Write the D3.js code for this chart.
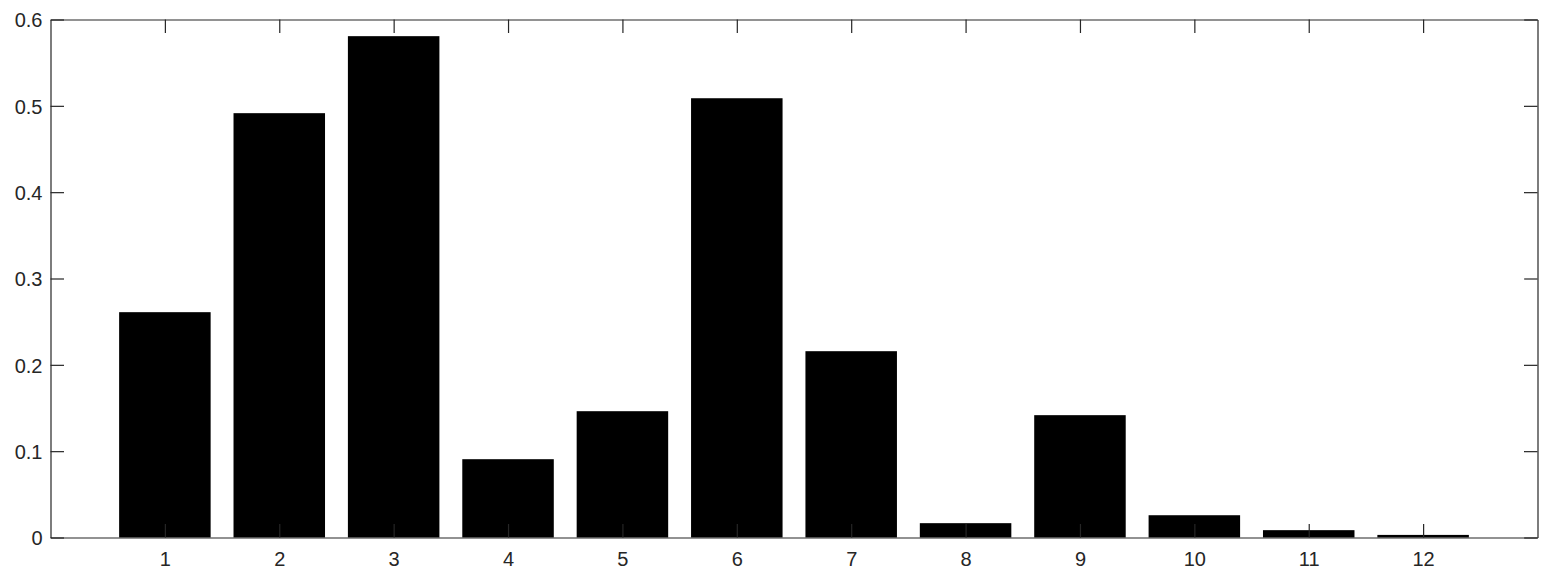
<!DOCTYPE html>
<html>
<head>
<meta charset="utf-8">
<script src="https://cdn.jsdelivr.net/npm/d3@7"></script>
<style>
  html, body { margin: 0; padding: 0; background: #fff; }
  svg { display: block; }
  text { font-family: "Liberation Sans", Arial, sans-serif; }
</style>
</head>
<body>
<script>
const categories = [1, 2, 3, 4, 5, 6, 7, 8, 9, 10, 11, 12];
const values = [0.261, 0.4915, 0.5807, 0.0907, 0.1463, 0.5088, 0.2158, 0.0166, 0.1417, 0.0258, 0.0085, 0.003];
const yTicks = [0, 0.1, 0.2, 0.3, 0.4, 0.5, 0.6];
const yTickLabels = ["0", "0.1", "0.2", "0.3", "0.4", "0.5", "0.6"];

(function () {
  const W = 1556, H = 579;
  const mLeft = 50.5, mRight = 1537.5, mTop = 19.5, mBottom = 537.5;
  const axisColor = "#262626";
  const fontSize = 20;
  const tickLen = 13.5;

  const svg = d3.select("body").append("svg").attr("width", W).attr("height", H);

  const x = d3.scaleLinear().domain([0, 13]).range([mLeft, mRight]);
  const y = d3.scaleLinear().domain([0, 0.6]).range([mBottom, mTop]);
  const barW = x(0.8) - x(0);

  svg.append("g").selectAll("rect").data(values).join("rect")
    .attr("x", (d, i) => x(categories[i]) - barW / 2)
    .attr("y", d => y(d))
    .attr("width", barW)
    .attr("height", d => y(0) - y(d))
    .attr("fill", "#000");

  const xAxis = d3.axisBottom(x).tickValues(categories).tickSizeInner(-tickLen).tickSizeOuter(0).tickPadding(14);
  const gx = svg.append("g").attr("transform", `translate(0,${mBottom})`).call(xAxis);
  const xAxisTop = d3.axisTop(x).tickValues(categories).tickSizeInner(-tickLen).tickSizeOuter(0).tickFormat("");
  const gxt = svg.append("g").attr("transform", `translate(0,${mTop})`).call(xAxisTop);
  const yAxis = d3.axisLeft(y).tickValues(yTicks).tickFormat((d, i) => yTickLabels[i]).tickSizeInner(-tickLen).tickSizeOuter(0).tickPadding(8);
  const gy = svg.append("g").attr("transform", `translate(${mLeft},0)`).call(yAxis);
  const yAxisR = d3.axisRight(y).tickValues(yTicks).tickSizeInner(-tickLen).tickSizeOuter(0).tickFormat("");
  const gyr = svg.append("g").attr("transform", `translate(${mRight},0)`).call(yAxisR);

  [gx, gxt, gy, gyr].forEach(g => {
    g.selectAll(".domain").attr("stroke", axisColor).attr("stroke-width", 1.2);
    g.selectAll(".tick line").attr("stroke", axisColor).attr("stroke-width", 1.2);
    g.selectAll("text").attr("fill", axisColor).attr("font-size", fontSize)
      .attr("font-family", "'Liberation Sans', Arial, sans-serif");
  });
  gy.selectAll("text").attr("dy", "0.36em");
})();
</script>
</body>
</html>
